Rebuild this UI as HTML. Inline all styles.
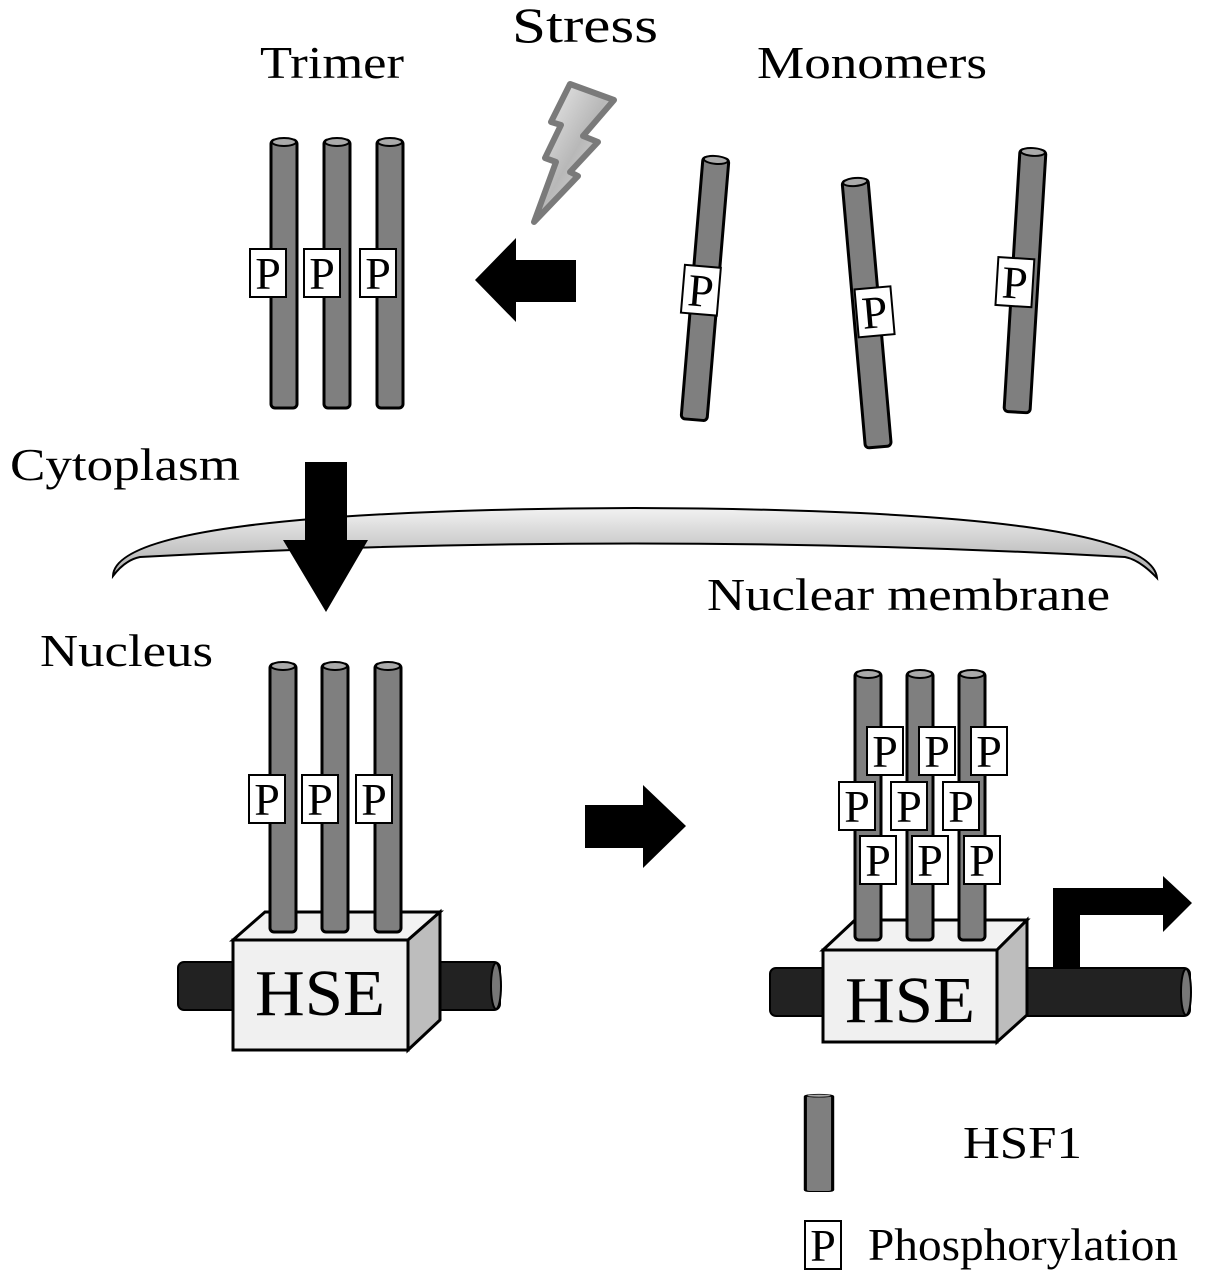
<!DOCTYPE html>
<html><head><meta charset="utf-8"><style>
html,body{margin:0;padding:0;background:#fff;}
svg{display:block}
text{font-family:"Liberation Serif",serif;fill:#000}
</style></head><body>
<svg width="1205" height="1277" viewBox="0 0 1205 1277" xmlns="http://www.w3.org/2000/svg">
<defs>
<linearGradient id="mem" x1="0" y1="0" x2="0" y2="1"><stop offset="0" stop-color="#f2f2f2"/><stop offset="1" stop-color="#a8a8a8"/></linearGradient>
<linearGradient id="bolt" x1="0" y1="0" x2="1" y2="1"><stop offset="0" stop-color="#f4f4f4"/><stop offset="0.5" stop-color="#b8b8b8"/><stop offset="1" stop-color="#eee"/></linearGradient>
<g id="rod">
<rect x="-13" y="0" width="26" height="268" fill="#7f7f7f" stroke="#000" stroke-width="3" rx="4"/>
<ellipse cx="0" cy="2" rx="12" ry="4" fill="#aaa" stroke="#000" stroke-width="2"/>
</g>
<g id="p">
<rect x="-18" y="-24" width="36" height="48" fill="#fff" stroke="#000" stroke-width="2"/>
<text x="0" y="16" font-size="46" text-anchor="middle">P</text>
</g>
</defs>

<text x="512" y="42" font-size="50" textLength="146" lengthAdjust="spacingAndGlyphs">Stress</text>
<text x="260" y="78" font-size="46" textLength="144" lengthAdjust="spacingAndGlyphs">Trimer</text>
<text x="757" y="78" font-size="46" textLength="230" lengthAdjust="spacingAndGlyphs">Monomers</text>
<text x="10" y="480" font-size="46" textLength="230" lengthAdjust="spacingAndGlyphs">Cytoplasm</text>
<text x="707" y="610" font-size="46" textLength="403" lengthAdjust="spacingAndGlyphs">Nuclear membrane</text>
<text x="40" y="666" font-size="46" textLength="173" lengthAdjust="spacingAndGlyphs">Nucleus</text>

<!-- bolt -->
<polygon points="570,84 614,100 583,136 598,142 570,172 578,176 534,222 556,162 545,158 561,125 551,122" fill="url(#bolt)" stroke="#7a7a7a" stroke-width="6" stroke-linejoin="round"/>

<!-- trimer top -->
<use href="#rod" x="284" y="140"/><use href="#rod" x="337" y="140"/><use href="#rod" x="390" y="140"/>
<use href="#p" x="268" y="273"/><use href="#p" x="322" y="273"/><use href="#p" x="378" y="273"/>

<!-- monomers -->
<g transform="translate(716,158) rotate(4.8)"><use href="#rod" transform="scale(1,0.98)"/><use href="#p" x="-4" y="133"/></g>
<g transform="translate(855,180) rotate(-5)"><use href="#rod"/><use href="#p" x="8" y="133"/></g>
<g transform="translate(1033,150) rotate(3.5)"><use href="#rod" transform="scale(1,0.98)"/><use href="#p" x="-10" y="133"/></g>

<!-- left arrow -->
<polygon points="475,280 516,238 516,260 576,260 576,302 516,302 516,322" fill="#000"/>

<!-- membrane -->
<path d="M113,576 Q115,510 635,508 Q1150,510 1157,578 Q1140,560 1125,557 Q635,530 140,557 Q125,560 113,576Z" fill="url(#mem)" stroke="#000" stroke-width="2"/>
<!-- down arrow -->
<polygon points="305,462 347,462 347,540 368,540 326,612 283,540 305,540" fill="#000"/>

<!-- left HSE complex -->
<rect x="178" y="962" width="60" height="48" rx="6" fill="#222" stroke="#000" stroke-width="2"/>
<rect x="400" y="962" width="100" height="48" rx="6" fill="#222" stroke="#000" stroke-width="2"/>
<ellipse cx="496" cy="986" rx="5" ry="23" fill="#777" stroke="#000" stroke-width="2"/>
<polygon points="233,940 265,912 440,912 408,940" fill="#f2f2f2" stroke="#000" stroke-width="3"/>
<polygon points="408,940 440,912 440,1020 408,1050" fill="#bdbdbd" stroke="#000" stroke-width="3"/>
<use href="#rod" x="283" y="664"/><use href="#rod" x="335" y="664"/><use href="#rod" x="388" y="664"/>
<rect x="233" y="940" width="175" height="110" fill="#f0f0f0" stroke="#000" stroke-width="3"/>
<text x="320" y="1015" font-size="66" text-anchor="middle" textLength="130" lengthAdjust="spacingAndGlyphs">HSE</text>
<use href="#p" x="267" y="799"/><use href="#p" x="320" y="799"/><use href="#p" x="374" y="799"/>

<!-- right arrow -->
<polygon points="585,805 643,805 643,785 686,826 643,868 643,848 585,848" fill="#000"/>

<!-- right HSE complex -->
<rect x="770" y="968" width="60" height="48" rx="6" fill="#222" stroke="#000" stroke-width="2"/>
<rect x="990" y="968" width="200" height="48" rx="6" fill="#222" stroke="#000" stroke-width="2"/>
<ellipse cx="1186" cy="992" rx="5" ry="23" fill="#777" stroke="#000" stroke-width="2"/>
<polygon points="1053,968 1053,888 1163,888 1163,876 1192,903 1163,932 1163,915 1080,915 1080,968" fill="#000"/>
<polygon points="823,950 855,920 1027,920 997,950" fill="#f2f2f2" stroke="#000" stroke-width="3"/>
<polygon points="997,950 1027,920 1027,1015 997,1042" fill="#bdbdbd" stroke="#000" stroke-width="3"/>
<use href="#rod" x="868" y="672"/><use href="#rod" x="920" y="672"/><use href="#rod" x="972" y="672"/>
<rect x="823" y="950" width="174" height="92" fill="#f0f0f0" stroke="#000" stroke-width="3"/>
<text x="910" y="1022" font-size="66" text-anchor="middle" textLength="130" lengthAdjust="spacingAndGlyphs">HSE</text>
<use href="#p" x="885" y="751"/><use href="#p" x="937" y="751"/><use href="#p" x="989" y="751"/>
<use href="#p" x="857" y="806"/><use href="#p" x="909" y="806"/><use href="#p" x="961" y="806"/>
<use href="#p" x="878" y="860"/><use href="#p" x="930" y="860"/><use href="#p" x="982" y="860"/>

<!-- legend -->
<g transform="translate(819,1095) scale(1.05,0.36)"><use href="#rod"/></g>
<text x="963" y="1158" font-size="46" textLength="119" lengthAdjust="spacingAndGlyphs">HSF1</text>
<use href="#p" x="823" y="1245"/>
<text x="868" y="1260" font-size="46" textLength="310" lengthAdjust="spacingAndGlyphs">Phosphorylation</text>
</svg>
</body></html>
